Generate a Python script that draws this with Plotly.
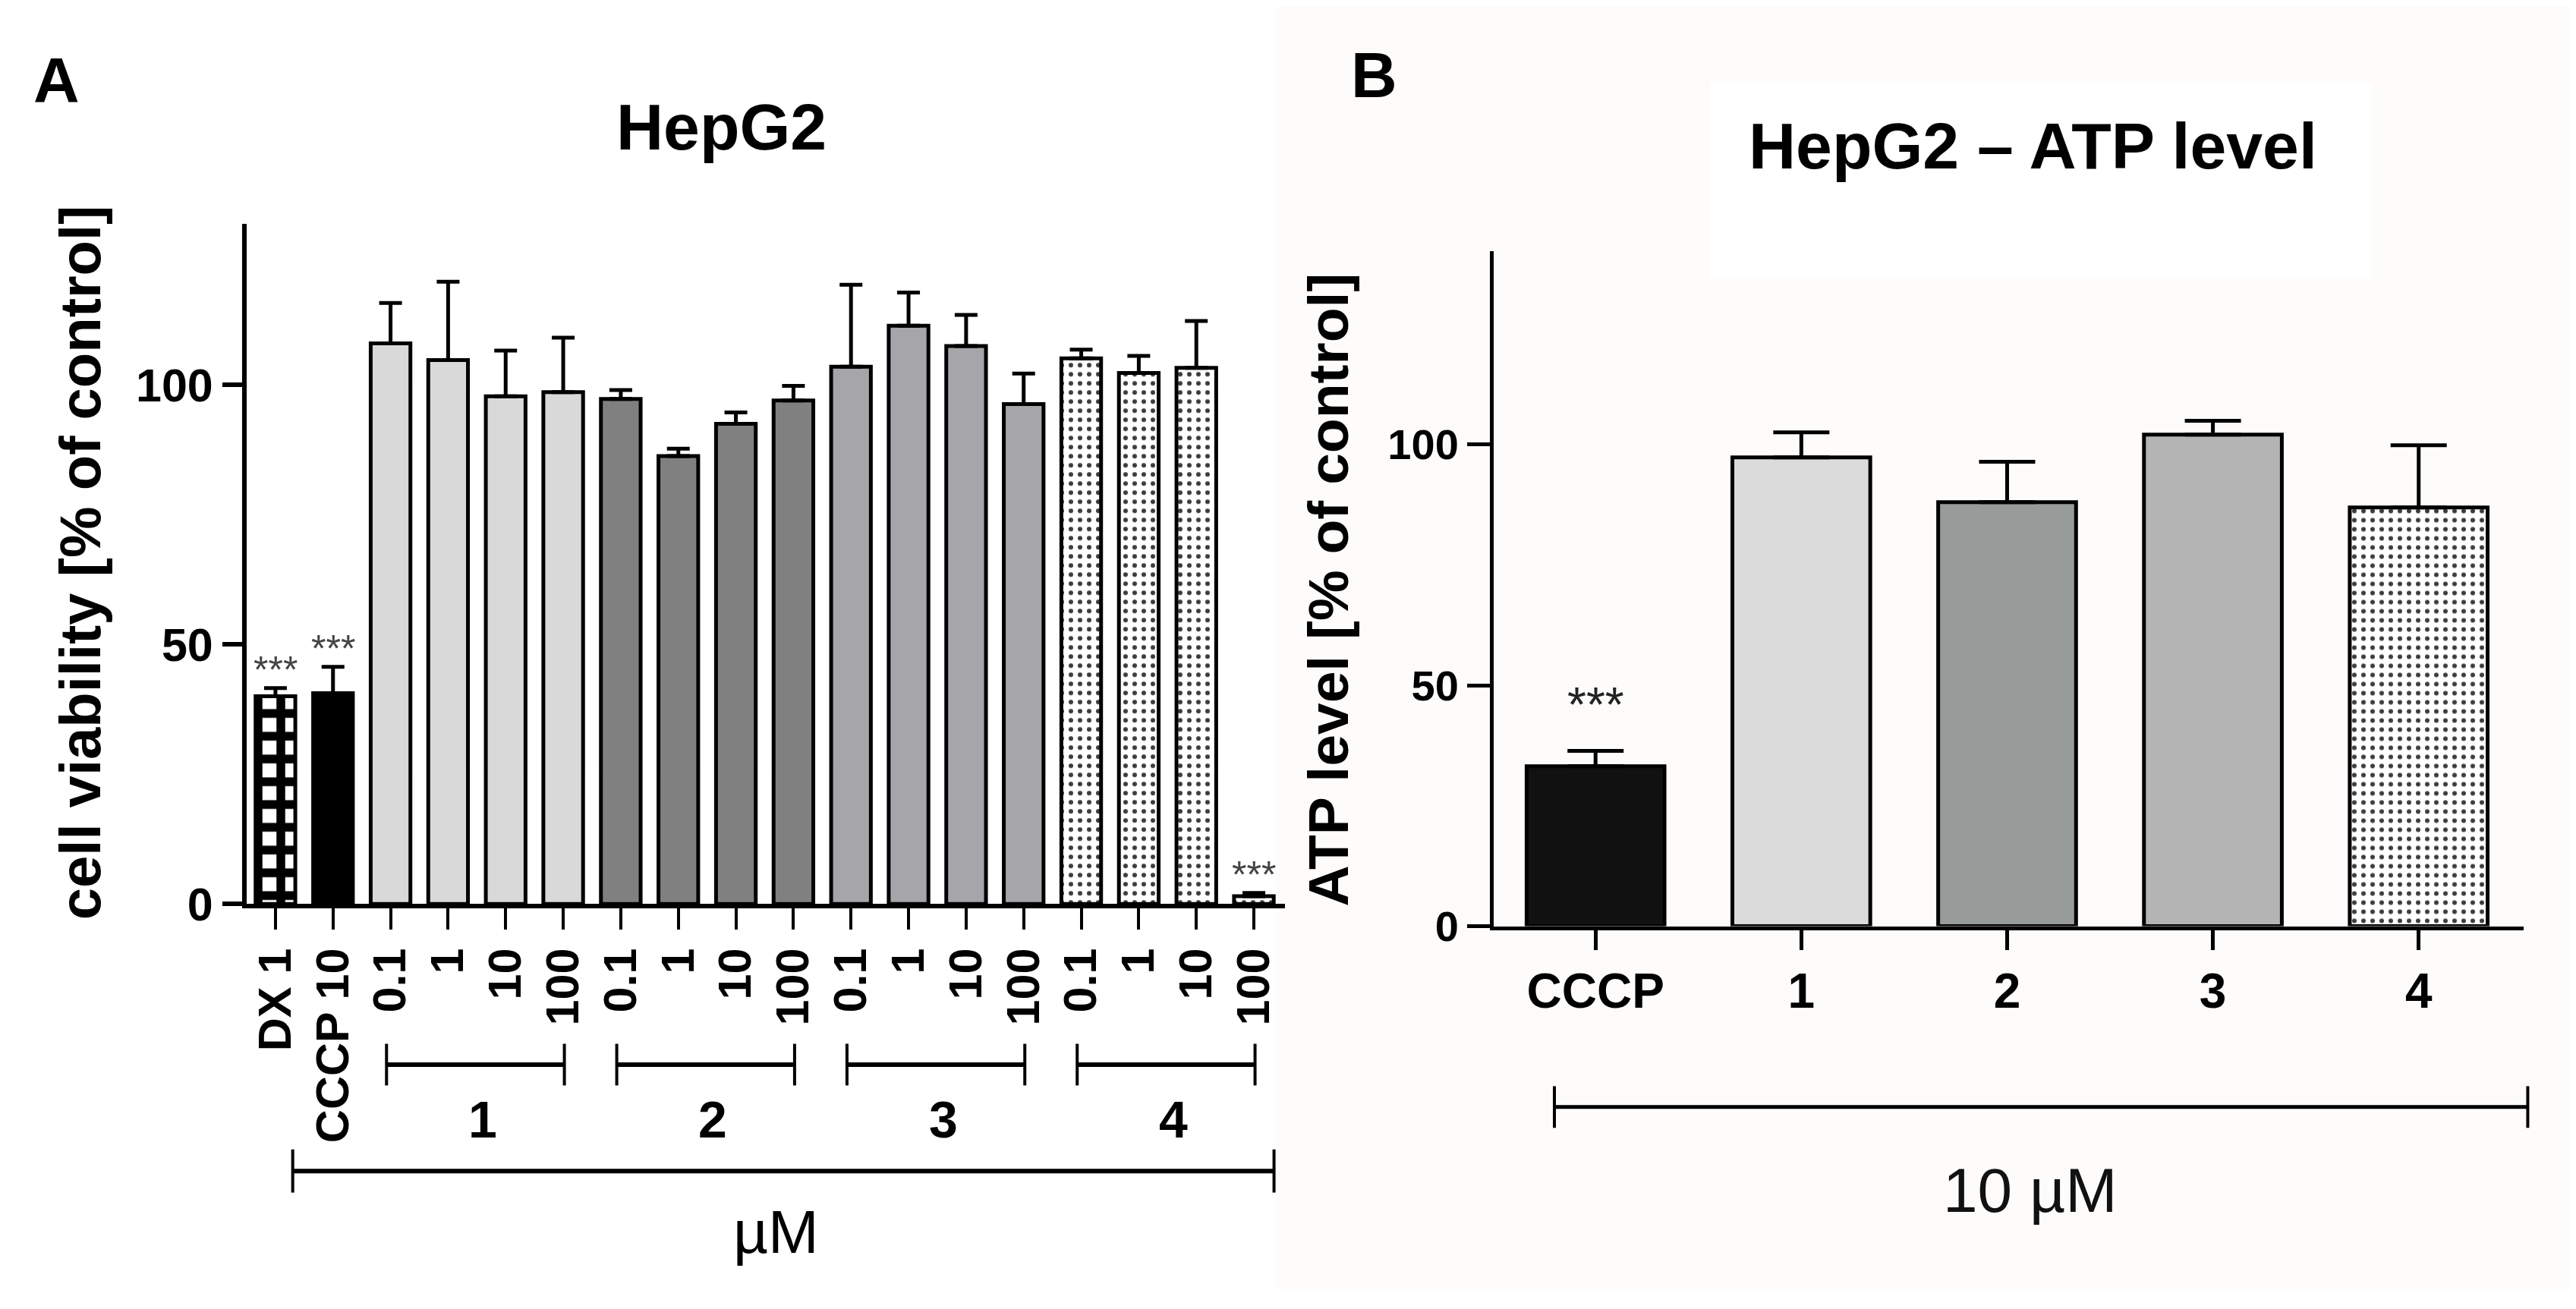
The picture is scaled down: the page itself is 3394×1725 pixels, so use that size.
import plotly.graph_objects as go

W, H = 3394, 1725

# ---------------- data ----------------
# Panel A: HepG2 cell viability
labels_A = ["DX 1", "CCCP 10",
            "0.1", "1", "10", "100",
            "0.1", "1", "10", "100",
            "0.1", "1", "10", "100",
            "0.1", "1", "10", "100"]
values_A = [40.0, 40.6,
            108.0, 104.8, 97.8, 98.6,
            97.3, 86.3, 92.5, 97.0,
            103.5, 111.4, 107.5, 96.3,
            105.1, 102.3, 103.3, 1.5]
errors_A = [1.6, 5.1,
            7.8, 15.1, 8.8, 10.5,
            1.7, 1.4, 2.2, 2.8,
            15.8, 6.4, 6.0, 5.9,
            1.7, 3.3, 9.0, 0.6]
signif_A = ["***", "***"] + [""] * 15 + ["***"]
groups_A = ["1", "2", "3", "4"]
group_start_A = [2, 6, 10, 14]
group_end_A = [5, 9, 13, 17]

# Panel B: HepG2 ATP level
labels_B = ["CCCP", "1", "2", "3", "4"]
values_B = [33.2, 97.3, 88.0, 102.0, 86.9]
errors_B = [3.2, 5.2, 8.4, 2.9, 12.9]
signif_B = ["***", "", "", "", ""]

# ---------------- styles ----------------
# (indices, fill colour, pattern shape, pattern fg, pattern size, solidity)
styles_A = [
    ([0], "white", "+", "black", 30, 0.62),
    ([1], "black", "", "black", 10, 0.3),
    ([2, 3, 4, 5], "#d9d9d9", "", "black", 10, 0.3),
    ([6, 7, 8, 9], "#808080", "", "black", 10, 0.3),
    ([10, 11, 12, 13], "#a5a5aa", "", "black", 10, 0.3),
    ([14, 15, 16, 17], "white", ".", "#3c3c3c", 12, 0.2),
]
styles_B = [
    ([0], "#111111", "", "black", 10, 0.3),
    ([1], "#dbdbdb", "", "black", 10, 0.3),
    ([2], "#979b9a", "", "black", 10, 0.3),
    ([3], "#b4b4b4", "", "black", 10, 0.3),
    ([4], "white", ".", "#3c3c3c", 12, 0.2),
]

FONT = "Liberation Sans"

# layout geometry (pixels of the 3394x1725 canvas)
domA = (317 / W, 1685 / W)
domB = (1960 / W, 3317 / W)
rngA = (-0.5, len(values_A) - 1 + 0.54)
rngB = (-0.495, len(values_B) - 1 + 0.51)


def px(x):
    return x / W


def py(y):
    return 1 - y / H


def to_paper(v, dom, rng):
    return dom[0] + (v - rng[0]) / (rng[1] - rng[0]) * (dom[1] - dom[0])


fig = go.Figure()


def add_bars(values, errors, styles, xa, ya, width, cap):
    for idx, col, shp, fg, sz, sol in styles:
        marker = dict(color=col, line=dict(color="black", width=5))
        if shp:
            marker["pattern"] = dict(shape=shp, fgcolor=fg, bgcolor=col, size=sz,
                                     solidity=sol, fillmode="replace")
        fig.add_trace(go.Bar(
            x=idx, y=[values[i] for i in idx], width=width, xaxis=xa, yaxis=ya,
            marker=marker,
            error_y=dict(type="data", symmetric=False, array=[errors[i] for i in idx],
                         arrayminus=[0] * len(idx), color="black", thickness=5, width=cap),
            showlegend=False, hoverinfo="skip"))


add_bars(values_A, errors_A, styles_A, "x", "y", 0.69, 15)
add_bars(values_B, errors_B, styles_B, "x2", "y2", 0.67, 37)

annotations = []
shapes = [
    # faint off-white background of panel B and the white box behind its title
    dict(type="rect", xref="paper", yref="paper", x0=px(1673), x1=1, y0=0, y1=1,
         fillcolor="#fdfcfa", line=dict(width=0), layer="below"),
    dict(type="rect", xref="paper", yref="paper", x0=px(2245), x1=px(3118),
         y0=py(367), y1=py(103), fillcolor="white", line=dict(width=0), layer="below"),
]

# significance stars
for i, s in enumerate(signif_A):
    if s:
        annotations.append(dict(x=i, y=values_A[i] + errors_A[i], xref="x", yref="y",
                                text=s, showarrow=False, xanchor="center", yanchor="bottom",
                                yshift=-6, font=dict(family=FONT, size=50, color="#444444")))
for i, s in enumerate(signif_B):
    if s:
        annotations.append(dict(x=i, y=values_B[i] + errors_B[i], xref="x2", yref="y2",
                                text=s, showarrow=False, xanchor="center", yanchor="bottom",
                                yshift=22, font=dict(family=FONT, size=64, color="#222222")))


def bracket(x0, x1, yc, half, lw):
    shapes.append(dict(type="line", xref="paper", yref="paper", x0=x0, x1=x1,
                       y0=py(yc), y1=py(yc), line=dict(color="black", width=lw)))
    for xx in (x0, x1):
        shapes.append(dict(type="line", xref="paper", yref="paper", x0=xx, x1=xx,
                           y0=py(yc - half), y1=py(yc + half),
                           line=dict(color="black", width=4)))


for g, s0, s1 in zip(groups_A, group_start_A, group_end_A):
    bracket(to_paper(s0 - 0.07, domA, rngA), to_paper(s1 + 0.02, domA, rngA), 1423, 28, 6)
    annotations.append(dict(x=to_paper((s0 + s1) / 2 + 0.1, domA, rngA), y=py(1497),
                            xref="paper", yref="paper",
                            text=g, showarrow=False, xanchor="center", yanchor="middle",
                            font=dict(family=FONT, size=68, color="black", weight="bold")))

bracket(to_paper(0.3, domA, rngA), to_paper(len(values_A) - 1 + 0.35, domA, rngA), 1566, 29, 6)
bracket(to_paper(-0.2, domB, rngB), to_paper(len(values_B) - 1 + 0.53, domB, rngB), 1480, 28, 5)


def label(x, y, text, size, bold=True, angle=0, color="black"):
    f = dict(family=FONT, size=size, color=color)
    if bold:
        f["weight"] = "bold"
    annotations.append(dict(x=px(x), y=py(y), xref="paper", yref="paper", text=text,
                            showarrow=False, xanchor="center", yanchor="middle",
                            textangle=angle, font=f))


label(66, 100, "A", 84)
label(1802, 93, "B", 84)
label(943, 162, "HepG2", 86)
label(2670, 188, "HepG2 \u2013 ATP level", 86)
label(97, 748, "cell viability [% of control]", 76, angle=-90)
label(1742, 784, "ATP level [% of control]", 75, angle=-90)
label(1015, 1648, "\u00b5M", 80, bold=False)
label(2667, 1592, "10 \u00b5M", 82, bold=False, color="#111111")

axis_common = dict(showgrid=False, zeroline=False, showline=True, linecolor="black",
                   ticks="outside", tickcolor="black")

fig.update_layout(
    width=W, height=H, margin=dict(l=0, r=0, t=0, b=0),
    paper_bgcolor="white", plot_bgcolor="rgba(0,0,0,0)",
    barmode="overlay", showlegend=False,
    xaxis=dict(domain=list(domA), range=list(rngA),
               tickvals=list(range(len(labels_A))), ticktext=labels_A, tickangle=-90,
               linewidth=6, ticklen=28, tickwidth=4, anchor="y",
               tickfont=dict(family=FONT, size=61, color="black", weight="bold"),
               **axis_common),
    yaxis=dict(domain=[py(1207), py(293)], range=[0, 131], tickvals=[0, 50, 100],
               linewidth=6, ticklen=26, tickwidth=6, anchor="x",
               tickfont=dict(family=FONT, size=61, color="black", weight="bold"),
               **axis_common),
    xaxis2=dict(domain=list(domB), range=list(rngB),
                tickvals=list(range(len(labels_B))), ticktext=labels_B,
                linewidth=5, ticklen=26, tickwidth=5, anchor="y2",
                tickfont=dict(family=FONT, size=64, color="black", weight="bold"),
                **axis_common),
    yaxis2=dict(domain=[py(1237), py(330)], range=[0, 140], tickvals=[0, 50, 100],
                linewidth=5, ticklen=30, tickwidth=5, anchor="x2",
                tickfont=dict(family=FONT, size=56, color="black", weight="bold"),
                **axis_common),
    annotations=annotations, shapes=shapes,
)

fig.write_html("out.html")
